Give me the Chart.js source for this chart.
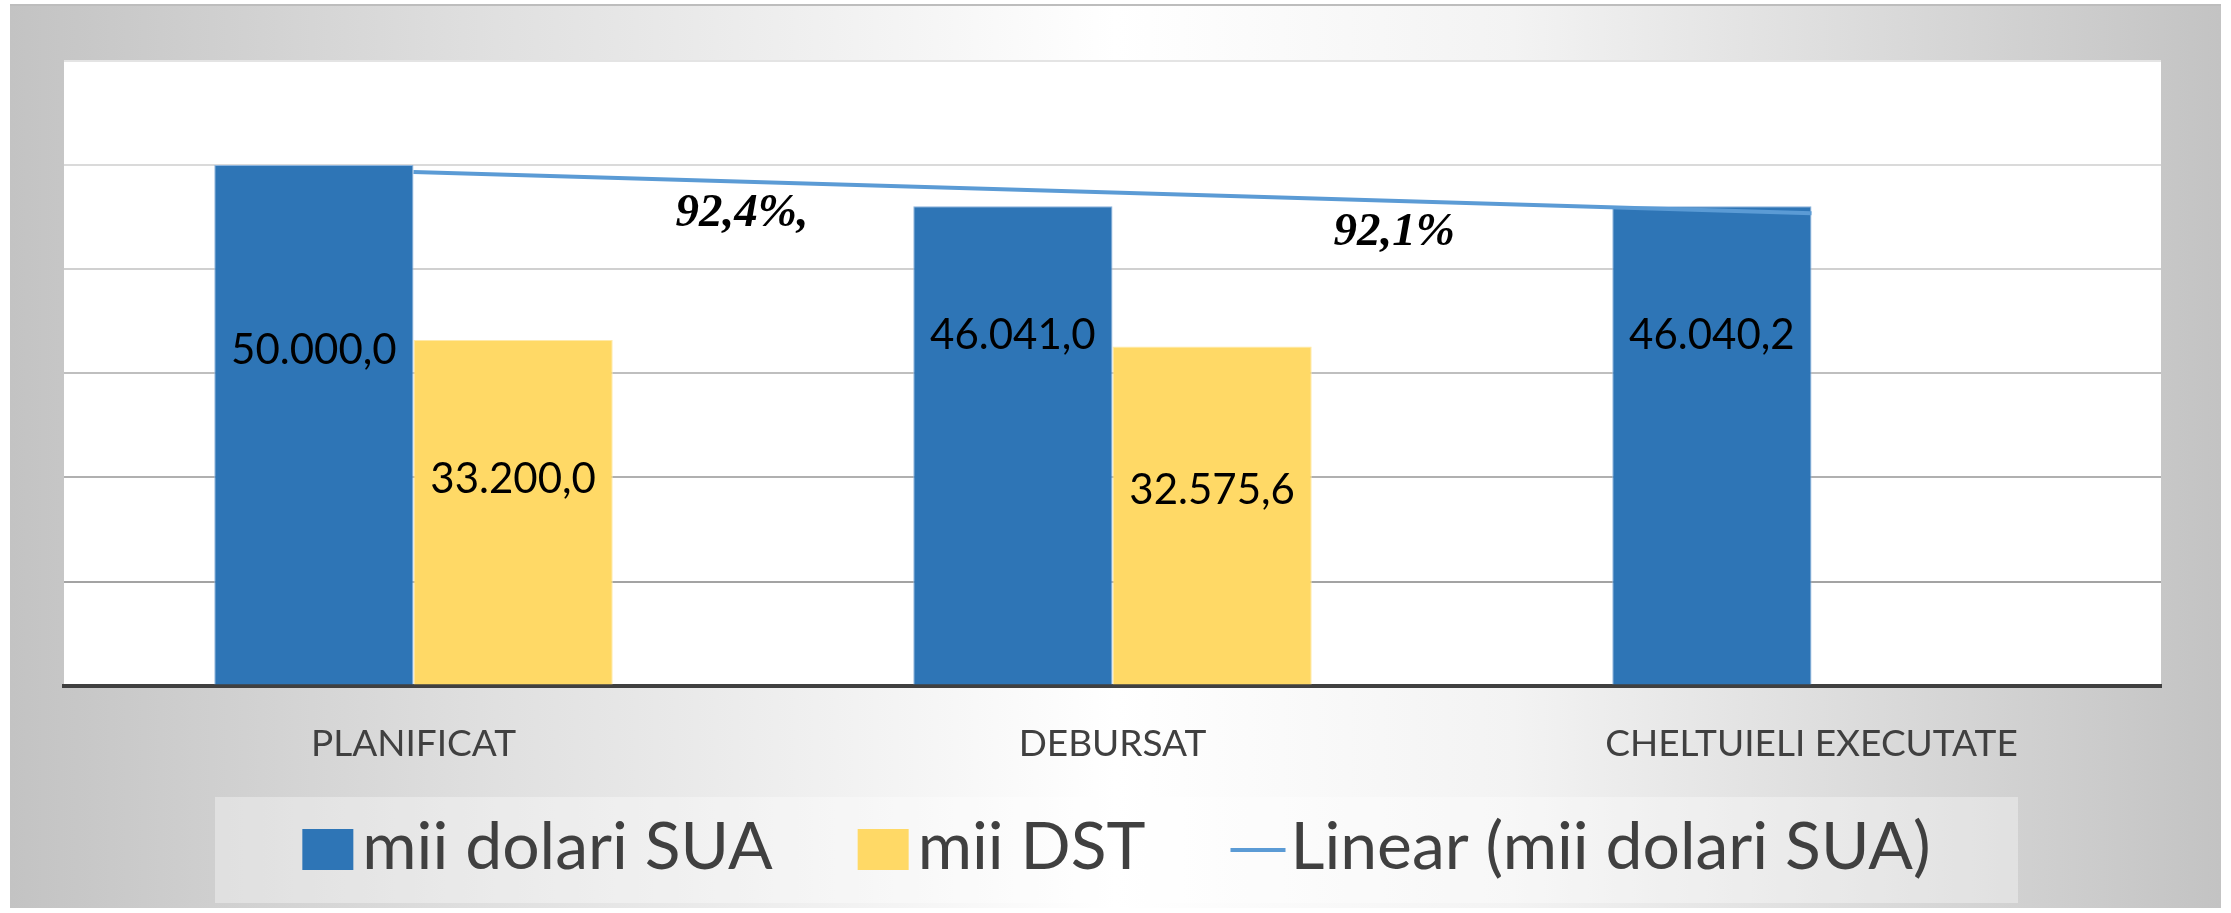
<!DOCTYPE html>
<html>
<head>
<meta charset="utf-8">
<script src="https://cdn.jsdelivr.net/npm/chart.js@4.4.0/dist/chart.umd.min.js"></script>
<style>
  html, body { margin: 0; padding: 0; background: #fff; }
  #wrap { width: 2231px; height: 913px; }
</style>
</head>
<body>
<div id="wrap"><canvas id="chart" width="2231" height="913"></canvas></div>
<script>
// date
const categories = ['PLANIFICAT', 'DEBURSAT', 'CHELTUIELI EXECUTATE'];
const usdValues = [50000.0, 46041.0, 46040.2];
const dstValues = [33200.0, 32575.6, null];
const trendValues = [49340, 47360, 45380];
const seriesNames = ['mii dolari SUA', 'mii DST', 'Linear (mii dolari SUA)'];
const percentLabels = ['92,4%,', '92,1%'];
const yMin = 0, yMax = 60000, yStep = 10000;

const BLUE = '#2E75B6';
const YELLOW = '#FFD966';
const TREND = '#5B9BD5';
const TEXT = '#404040';

// format 50000 -> 50.000,0
function fmt(v) {
    const parts = v.toFixed(1).split('.');
    const int = parts[0].replace(/\B(?=(\d{3})+(?!\d))/g, '.');
    return int + ',' + parts[1];
}

// fundal gri + zona alba a graficului
const backgroundPlugin = {
    id: 'bgBox',
    beforeDraw(chart) {
        const c = chart.ctx;
        const a = chart.chartArea;
        c.save();
        const g = c.createLinearGradient(10, 0, 2221, 0);
        g.addColorStop(0, '#C3C3C3');
        g.addColorStop(0.22, '#E0E0E0');
        g.addColorStop(0.5, '#FFFFFF');
        g.addColorStop(0.68, '#F3F3F3');
        g.addColorStop(1, '#C3C3C3');
        c.fillStyle = g;
        c.fillRect(10, 5, 2211, 903);
        c.strokeStyle = '#BDBDBD';
        c.lineWidth = 2;
        c.beginPath();
        c.moveTo(10, 5); c.lineTo(2221, 5);
        c.stroke();
        c.fillStyle = '#FFFFFF';
        c.fillRect(a.left, a.top, a.right - a.left, a.bottom - a.top);
        c.restore();
    }
};

// etichete valori + procente
const labelsPlugin = {
    id: 'valueLabels',
    afterDatasetsDraw(chart, args, opts) {
        const c = chart.ctx;
        const y = chart.scales.y;
        const x = chart.scales.x;
        c.save();
        c.fillStyle = '#000';
        c.textAlign = 'center';
        c.textBaseline = 'alphabetic';
        c.font = '42px Lato';
        [0, 1].forEach(di => {
            const meta = chart.getDatasetMeta(di);
            const vals = chart.data.datasets[di].data;
            meta.data.forEach((bar, i) => {
                if (vals[i] == null) return;
                c.fillText(fmt(vals[i]), bar.x, y.getPixelForValue(opts.anchors[di][i]));
            });
        });
        c.font = 'italic bold 47px "Liberation Serif"';
        percentLabels.forEach((t, i) => {
            const p = opts.percentAt[i];
            c.fillText(t, x.getPixelForValue(p[0]), y.getPixelForValue(p[1]));
        });
        c.restore();
    }
};

// legenda jos
const legendPlugin = {
    id: 'legendBox',
    afterDraw(chart) {
        const c = chart.ctx;
        c.save();
        c.fillStyle = 'rgba(255,255,255,0.35)';
        c.fillRect(215, 797, 1803, 106);
        c.font = '66px Lato';
        const sw = 51, gap = 9, between = 85;
        const items = chart.data.datasets.map(ds => ({
            label: ds.label, type: ds.type, color: ds.type === 'line' ? ds.borderColor : ds.backgroundColor
        }));
        const widths = items.map(it => sw + gap + c.measureText(it.label).width);
        const total = widths.reduce((s, w) => s + w, 0) + between * (items.length - 1);
        let px = 1116.5 - total / 2;
        const base = 869;
        items.forEach((it, i) => {
            if (it.type === 'line') {
                c.strokeStyle = it.color;
                c.lineWidth = 4;
                c.beginPath();
                c.moveTo(px, 850); c.lineTo(px + sw + 4, 850);
                c.stroke();
            } else {
                c.fillStyle = it.color;
                c.fillRect(px, 829, sw, 41);
            }
            c.fillStyle = TEXT;
            c.textBaseline = 'alphabetic';
            c.fillText(it.label, px + sw + gap, base);
            px += widths[i] + between;
        });
        c.restore();
    }
};

const gridColors = { 60000: '#E4E4E4', 50000: '#DADADA', 40000: '#D0D0D0', 30000: '#BFBFBF', 20000: '#B0B0B0', 10000: '#A3A3A3', 0: '#A3A3A3' };

const ctx = document.getElementById('chart').getContext('2d');
const chart = new Chart(ctx, {
    data: {
        labels: categories,
        datasets: [
            {
                type: 'bar', label: seriesNames[0], data: usdValues,
                backgroundColor: BLUE, borderColor: '#8DB4DD', borderWidth: 1, order: 2
            },
            {
                type: 'bar', label: seriesNames[1], data: dstValues,
                backgroundColor: YELLOW, borderColor: '#FFE9A8', borderWidth: 1, order: 2
            },
            {
                type: 'line', label: seriesNames[2], data: trendValues,
                borderColor: TREND, borderWidth: 4, pointRadius: 0, tension: 0, fill: false, order: 0
            }
        ]
    },
    options: {
        responsive: false,
        animation: false,
        datasets: { bar: { barPercentage: 1, categoryPercentage: 0.57 } },
        layout: { padding: { left: 64, right: 70, top: 61, bottom: 111 } },
        plugins: {
            legend: { display: false },
            tooltip: { enabled: false },
            valueLabels: {
                anchors: [[30900, 32300, 32300], [18500, 17430, null]],
                percentAt: [[0.47, 44110], [1.403, 42280]]
            }
        },
        scales: {
            x: {
                grid: { display: false, drawTicks: false },
                border: { display: true, color: '#404040', width: 4 },
                ticks: { color: TEXT, font: { family: 'Lato', size: 37 }, padding: 36 }
            },
            y: {
                min: yMin, max: yMax,
                ticks: { display: false, stepSize: yStep },
                grid: { drawTicks: false, lineWidth: 2, color: c => gridColors[c.tick.value] || '#D0D0D0' },
                border: { display: false }
            }
        }
    },
    plugins: [backgroundPlugin, labelsPlugin, legendPlugin]
});
</script>
</body>
</html>
